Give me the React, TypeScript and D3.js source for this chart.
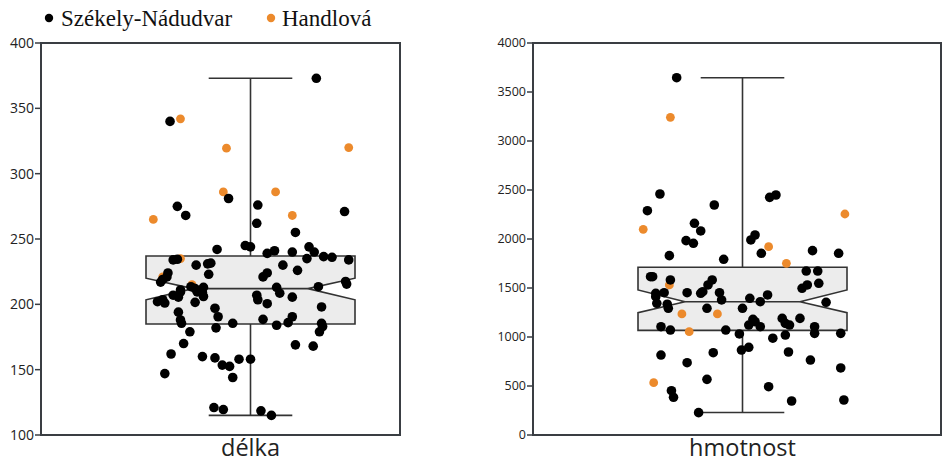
import React from "react";
import * as d3 from "d3";

// ---------- data ----------
const seriesNames = ["Székely-Nádudvar", "Handlová"];
const seriesColors = ["#000000", "#ec8a2c"];
const panelTitles = ["délka", "hmotnost"];

const delkaTicks = [100, 150, 200, 250, 300, 350, 400];
const hmotnostTicks = [0, 500, 1000, 1500, 2000, 2500, 3000, 3500, 4000];

// box stats: [whiskerLow, q1, notchLow, median, notchHigh, q3, whiskerHigh]
const delkaBox = [115, 185, 203.5, 212, 220, 237, 373];
const hmotnostBox = [230, 1068, 1248, 1360, 1480, 1711, 3646];

// [jitter, value]
const delkaSzekely: [number, number][] = [
  [-0.77, 340], [0.63, 373], [-0.21, 281], [-0.7, 275], [-0.62, 268], [0.07, 276], [0.06, 262],
  [0.9, 271], [0.43, 255], [-0.32, 242], [-0.05, 245], [0.0, 244], [0.16, 239], [0.23, 241],
  [0.4, 240], [0.56, 244], [0.61, 240], [0.54, 235], [0.7, 236.5], [0.78, 236], [0.94, 234],
  [-0.74, 234], [-0.7, 234.5], [-0.52, 230], [-0.41, 231], [-0.38, 231.5], [-0.4, 223],
  [0.31, 230], [0.45, 226], [0.16, 224], [0.12, 221], [-0.79, 224], [-0.8, 221], [-0.84, 219],
  [-0.86, 217], [-0.57, 213.5], [-0.53, 212], [-0.45, 213], [-0.67, 211], [0.25, 213],
  [0.65, 213.5], [0.92, 215.5], [0.91, 217.5], [0.28, 208.5], [0.06, 207], [0.07, 203.5],
  [0.16, 200.5], [0.4, 205.5], [0.68, 198], [0.68, 185.5], [0.69, 183], [0.66, 179],
  [0.4, 190.5], [0.36, 186], [0.25, 184], [0.12, 188.5], [-0.17, 185.5], [-0.31, 190.5],
  [-0.34, 197], [-0.33, 182], [-0.45, 206], [-0.53, 201.5], [-0.69, 194], [-0.67, 188],
  [-0.66, 185.5], [-0.58, 179], [-0.89, 202], [-0.84, 203.5], [-0.82, 201], [-0.74, 207],
  [-0.69, 205.5], [-0.67, 209.5], [-0.51, 209.5], [-0.46, 209], [-0.64, 170], [-0.76, 162],
  [-0.82, 147], [-0.46, 160], [-0.34, 159], [-0.27, 153.5], [-0.2, 152.5], [-0.17, 144],
  [-0.11, 158], [0.0, 158], [-0.35, 121], [-0.26, 119.5], [0.1, 118.5], [0.2, 115],
  [0.43, 169], [0.6, 168],
];
const delkaHandlova: [number, number][] = [
  [-0.93, 265], [-0.67, 342], [-0.23, 319.5], [-0.26, 286], [0.24, 286], [0.4, 268],
  [0.94, 320], [-0.67, 235], [-0.84, 221], [-0.56, 215],
];
const hmotnostSzekely: [number, number][] = [
  [-0.63, 3646], [-0.79, 2459], [-0.91, 2289], [-0.27, 2347], [-0.46, 2160], [-0.4, 2082],
  [-0.54, 1983], [-0.47, 1956], [-0.7, 1830], [-0.18, 1793], [0.26, 2425], [0.32, 2449],
  [0.08, 1990], [0.12, 2041], [0.18, 1854], [0.67, 1881], [0.92, 1854], [0.61, 1673],
  [0.72, 1673], [0.73, 1548], [0.62, 1531], [0.57, 1497], [-0.88, 1615], [-0.86, 1615],
  [-0.69, 1582], [-0.83, 1446], [-0.75, 1452], [-0.29, 1582], [-0.33, 1531], [-0.53, 1452],
  [-0.38, 1462], [-0.4, 1446], [-0.22, 1452], [0.07, 1395], [0.17, 1360], [0.24, 1429],
  [-0.83, 1411], [-0.82, 1344], [-0.72, 1334], [-0.71, 1293], [-0.2, 1378], [0.8, 1354],
  [-0.34, 1293], [0.0, 1293], [0.1, 1180], [0.38, 1190], [0.55, 1190], [-0.78, 1105],
  [-0.69, 1071], [-0.16, 1071], [-0.03, 1031], [0.06, 1122], [0.12, 1156], [0.17, 1105],
  [0.41, 1139], [0.45, 1122], [0.69, 1105], [0.69, 1037], [0.94, 1037], [0.29, 988],
  [0.41, 1020], [-0.78, 816], [-0.53, 738], [-0.28, 840], [-0.01, 867], [0.06, 895],
  [0.44, 847], [0.65, 765], [0.94, 684], [-0.68, 452], [-0.66, 385], [-0.34, 568],
  [0.25, 493], [0.47, 347], [0.97, 357], [-0.42, 228],
];
const hmotnostHandlova: [number, number][] = [
  [-0.69, 3242], [-0.95, 2099], [0.25, 1922], [0.42, 1752], [0.98, 2255], [-0.7, 1531],
  [-0.58, 1235], [-0.24, 1235], [-0.51, 1054], [-0.85, 534],
];

// ---------- layout ----------
const W = 943;
const H = 462;
const top = 43;
const bottom = 435;
const axisColor = "#3a3e43";

type PanelProps = {
  x0: number;
  x1: number;
  center: number;
  domain: [number, number];
  ticks: number[];
  box: number[];
  szekely: [number, number][];
  handlova: [number, number][];
  title: string;
  tickFont: number;
};

function Panel(p: PanelProps) {
  const y = d3.scaleLinear().domain(p.domain).range([bottom, top]);
  const halfW = 104.5;
  const xj = d3.scaleLinear().domain([-1, 1]).range([p.center - halfW, p.center + halfW]);
  const [wl, q1, nl, med, nh, q3, wh] = p.box;
  const bl = xj(-1);
  const br = xj(1);
  const wl_ = xj(-0.55);
  const wr_ = xj(0.55);
  const boxPath = d3.path();
  boxPath.moveTo(bl, y(q3));
  boxPath.lineTo(br, y(q3));
  boxPath.lineTo(br, y(nh));
  boxPath.lineTo(wr_, y(med));
  boxPath.lineTo(br, y(nl));
  boxPath.lineTo(br, y(q1));
  boxPath.lineTo(bl, y(q1));
  boxPath.lineTo(bl, y(nl));
  boxPath.lineTo(wl_, y(med));
  boxPath.lineTo(bl, y(nh));
  boxPath.closePath();
  const capL = xj(-0.4);
  const capR = xj(0.4);
  return (
    <g>
      {/* frame */}
      <rect x={p.x0} y={top} width={p.x1 - p.x0} height={bottom - top} fill="none" stroke={axisColor} strokeWidth={2} />
      {/* ticks */}
      {p.ticks.map((t) => (
        <g key={t}>
          <line x1={p.x0 - 6} x2={p.x0} y1={y(t)} y2={y(t)} stroke={axisColor} strokeWidth={1.5} />
          <text
            x={p.x0 - 7}
            y={y(t)}
            dy="0.35em"
            textAnchor="end"
            fontFamily="'Open Sans', sans-serif"
            fontSize={p.tickFont}
            fill="#222"
          >
            {t}
          </text>
        </g>
      ))}
      {/* whiskers */}
      <line x1={p.center} x2={p.center} y1={y(q3)} y2={y(wh)} stroke="#333" strokeWidth={1.6} />
      <line x1={p.center} x2={p.center} y1={y(q1)} y2={y(wl)} stroke="#333" strokeWidth={1.6} />
      <line x1={capL} x2={capR} y1={y(wh)} y2={y(wh)} stroke="#333" strokeWidth={1.6} />
      <line x1={capL} x2={capR} y1={y(wl)} y2={y(wl)} stroke="#333" strokeWidth={1.6} />
      {/* box */}
      <path d={boxPath.toString()} fill="#ececec" stroke="#333" strokeWidth={1.6} />
      <line x1={wl_} x2={wr_} y1={y(med)} y2={y(med)} stroke="#333" strokeWidth={1.6} />
      {/* points */}
      {p.handlova.map(([j, v], i) => (
        <circle key={"h" + i} cx={xj(j)} cy={y(v)} r={4.4} fill={seriesColors[1]} />
      ))}
      {p.szekely.map(([j, v], i) => (
        <circle key={"s" + i} cx={xj(j)} cy={y(v)} r={4.8} fill={seriesColors[0]} />
      ))}
      <text
        x={p.center}
        y={455.5}
        textAnchor="middle"
        fontFamily="'Open Sans', sans-serif"
        fontSize={23.5}
        fill="#222"
      >
        {p.title}
      </text>
    </g>
  );
}

export default function App() {
  return (
    <svg
      width={W}
      height={H}
      style={{ position: "absolute", left: 0, top: 0, background: "#fff" }}
    >
      <rect x={0} y={0} width={W} height={H} fill="#fff" />
      {/* legend */}
      <g fontFamily="'Liberation Serif', serif" fontSize={23} fill="#111">
        <circle cx={49} cy={18} r={4.2} fill={seriesColors[0]} />
        <text x={61} y={26}>{seriesNames[0]}</text>
        <circle cx={271} cy={18} r={4.2} fill={seriesColors[1]} />
        <text x={282} y={26}>{seriesNames[1]}</text>
      </g>
      <Panel
        x0={41}
        x1={400}
        center={250.5}
        domain={[100, 400]}
        ticks={delkaTicks}
        box={delkaBox}
        szekely={delkaSzekely}
        handlova={delkaHandlova}
        title={panelTitles[0]}
        tickFont={14}
      />
      <Panel
        x0={533}
        x1={941}
        center={742.5}
        domain={[0, 4000]}
        ticks={hmotnostTicks}
        box={hmotnostBox}
        szekely={hmotnostSzekely}
        handlova={hmotnostHandlova}
        title={panelTitles[1]}
        tickFont={12.5}
      />
    </svg>
  );
}
